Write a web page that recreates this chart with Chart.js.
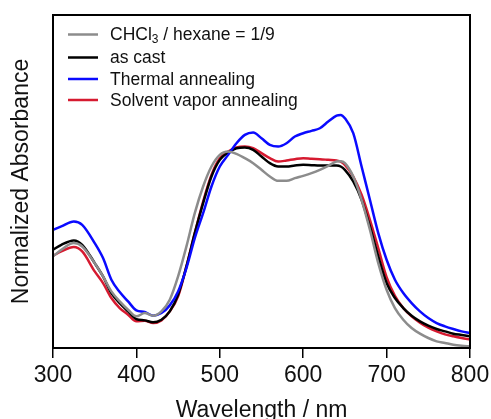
<!DOCTYPE html>
<html>
<head>
<meta charset="utf-8">
<script src="https://cdn.jsdelivr.net/npm/chart.js@4"></script>
<style>
  html, body { margin: 0; padding: 0; background: #fff; }
  #wrap { width: 491px; height: 419px; position: relative; }
</style>
</head>
<body>
<div id="wrap"><canvas id="absorbance_canvas"></canvas></div>
<script>
// wavelengths (nm)
const wavelengths = [300, 310, 325, 335, 350, 360, 370, 380, 390, 400, 410, 420, 430, 440, 450, 460, 470, 480, 490, 500,
  510, 520, 530, 540, 550, 560, 570, 580, 590, 600, 610, 620, 630, 640, 645, 650, 660, 670, 680, 690, 700,
  710, 720, 730, 740, 750, 760, 770, 780, 790, 800];

const seriesLabels = ['CHCl₃ / hexane = 1/9', 'as cast', 'Thermal annealing', 'Solvent vapor annealing'];
const seriesColors = ['#8c8c8c', '#000000', '#0a0aff', '#d61a30'];

// normalized absorbance
const hexaneValues = [0.275, 0.295, 0.315, 0.305, 0.255, 0.215, 0.17, 0.14, 0.115, 0.095, 0.105, 0.097, 0.11, 0.145, 0.215, 0.305, 0.405, 0.485, 0.545, 0.58,
  0.59, 0.583, 0.57, 0.555, 0.535, 0.515, 0.502, 0.502, 0.51, 0.517, 0.525, 0.535, 0.547, 0.56, 0.561, 0.555, 0.515, 0.445, 0.355, 0.255, 0.175,
  0.12, 0.085, 0.06, 0.043, 0.03, 0.02, 0.015, 0.01, 0.007, 0.005];
const asCastValues = [0.295, 0.31, 0.323, 0.31, 0.255, 0.215, 0.165, 0.135, 0.11, 0.087, 0.083, 0.077, 0.085, 0.11, 0.16, 0.245, 0.345, 0.435, 0.515, 0.565,
  0.587, 0.6, 0.602, 0.595, 0.575, 0.555, 0.545, 0.545, 0.548, 0.55, 0.549, 0.548, 0.548, 0.548, 0.545, 0.535, 0.5, 0.445, 0.365, 0.275, 0.195,
  0.15, 0.12, 0.097, 0.08, 0.067, 0.057, 0.05, 0.043, 0.039, 0.035];
const thermalValues = [0.355, 0.365, 0.38, 0.37, 0.315, 0.27, 0.205, 0.168, 0.14, 0.113, 0.108, 0.097, 0.105, 0.128, 0.17, 0.24, 0.33, 0.405, 0.485, 0.545,
  0.58, 0.615, 0.64, 0.647, 0.63, 0.61, 0.605, 0.615, 0.635, 0.645, 0.652, 0.66, 0.68, 0.698, 0.7, 0.69, 0.645, 0.545, 0.445, 0.345, 0.265,
  0.205, 0.165, 0.135, 0.11, 0.09, 0.075, 0.065, 0.057, 0.05, 0.045];
const vaporValues = [0.277, 0.29, 0.303, 0.29, 0.23, 0.195, 0.15, 0.12, 0.1, 0.08, 0.082, 0.075, 0.083, 0.11, 0.155, 0.245, 0.345, 0.44, 0.52, 0.57,
  0.59, 0.602, 0.605, 0.6, 0.585, 0.57, 0.56, 0.563, 0.567, 0.57, 0.568, 0.567, 0.565, 0.563, 0.56, 0.55, 0.515, 0.46, 0.385, 0.3, 0.213,
  0.157, 0.12, 0.095, 0.076, 0.061, 0.05, 0.041, 0.035, 0.03, 0.026];

const xTicks = [300, 400, 500, 600, 700, 800];

const FONT = "'Liberation Sans', Arial, sans-serif";

function toPoints(values) {
  return wavelengths.map((w, i) => ({ x: w, y: values[i] }));
}

const allValues = [hexaneValues, asCastValues, thermalValues, vaporValues];
const drawOrder = [0, 2, 1, 3]; // grey on top, red at the bottom

// frame around the plot area
const framePlugin = {
  id: 'frame',
  afterDraw(chart) {
    const { ctx, chartArea: a } = chart;
    ctx.save();
    ctx.strokeStyle = '#000';
    ctx.lineWidth = 2;
    ctx.strokeRect(a.left, a.top, a.right - a.left, a.bottom - a.top);
    ctx.restore();
  }
};

// legend drawn by hand so the subscript 3 can be smaller
const legendPlugin = {
  id: 'handLegend',
  afterDraw(chart) {
    const { ctx, chartArea: a } = chart;
    const rows = [34.5, 57.5, 79, 100];
    ctx.save();
    chart.data.datasets.forEach((ds, i) => {
      const y = rows[i];
      ctx.strokeStyle = ds.borderColor;
      ctx.lineWidth = 2.5;
      ctx.beginPath();
      ctx.moveTo(a.left + 15, y);
      ctx.lineTo(a.left + 45, y);
      ctx.stroke();

      let x = a.left + 57;
      ctx.fillStyle = '#111';
      ctx.textBaseline = 'middle';
      ctx.textAlign = 'left';
      for (const ch of ds.label) {
        const code = ch.charCodeAt(0);
        if (code >= 0x2080 && code <= 0x2089) {
          const digit = String.fromCharCode(code - 0x2080 + 48);
          ctx.font = '12px ' + FONT;
          ctx.fillText(digit, x, y + 5);
          x += ctx.measureText(digit).width;
        } else {
          ctx.font = '17.5px ' + FONT;
          ctx.fillText(ch, x, y + 1);
          x += ctx.measureText(ch).width;
        }
      }
    });
    ctx.restore();
  }
};

const chartData = {
  datasets: seriesLabels.map((label, i) => ({
    label: label,
    data: toPoints(allValues[i]),
    borderColor: seriesColors[i],
    backgroundColor: seriesColors[i],
    borderWidth: 2.5,
    pointRadius: 0,
    cubicInterpolationMode: 'monotone',
    fill: false,
    order: drawOrder[i]
  }))
};

const config = {
  type: 'line',
  data: chartData,
  options: {
    responsive: true,
    maintainAspectRatio: false,
    animation: false,
    layout: {
      padding: { top: 15, right: 21, left: 0, bottom: 0 }
    },
    scales: {
      x: {
        type: 'linear',
        min: 300,
        max: 800,
        afterBuildTicks: (scale) => { scale.ticks = xTicks.map(v => ({ value: v })); },
        afterFit: (scale) => {
          scale.height = 71;
          scale.paddingLeft = 0;
          scale.paddingRight = 0;
        },
        grid: {
          drawOnChartArea: false,
          drawTicks: true,
          tickLength: 10,
          color: '#000',
          lineWidth: 1.5
        },
        border: { display: true, color: '#000', width: 2 },
        ticks: {
          color: '#111',
          padding: 4,
          maxRotation: 0,
          font: { family: FONT, size: 23 }
        },
        title: {
          display: true,
          text: 'Wavelength / nm',
          color: '#111',
          padding: { top: 0, bottom: -5 },
          font: { family: FONT, size: 23 }
        }
      },
      y: {
        min: 0,
        max: 1,
        afterFit: (scale) => { scale.width = 53; },
        grid: { display: false },
        border: { display: false },
        ticks: { display: false },
        title: {
          display: true,
          text: 'Normalized Absorbance',
          color: '#111',
          padding: { top: 8, bottom: 0 },
          font: { family: FONT, size: 23 }
        }
      }
    },
    plugins: {
      legend: { display: false },
      tooltip: { enabled: false }
    }
  },
  plugins: [framePlugin, legendPlugin]
};

const ctx = document.getElementById('absorbance_canvas').getContext('2d');
const myChart = new Chart(ctx, config);
</script>
</body>
</html>
